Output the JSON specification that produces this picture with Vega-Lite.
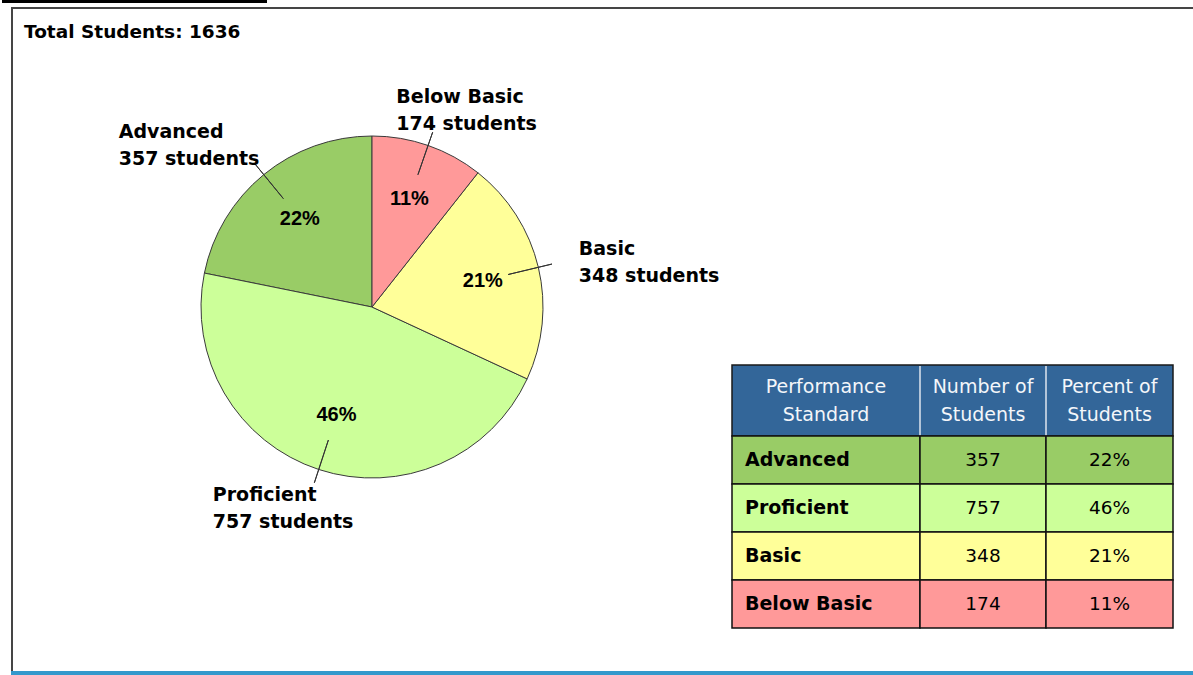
{
  "$schema": "https://vega.github.io/schema/vega-lite/v6.json",
  "width": 1193,
  "height": 675,
  "autosize": {"type": "fit", "contains": "padding"},
  "padding": 0,
  "background": "white",
  "config": {"view": {"stroke": null}, "font": "DejaVu Sans"},
  "data": {
    "values": [
      {"standard": "Advanced", "students": 357, "percent": 0.22, "rank": 1},
      {"standard": "Proficient", "students": 757, "percent": 0.46, "rank": 2},
      {"standard": "Basic", "students": 348, "percent": 0.21, "rank": 3},
      {"standard": "Below Basic", "students": 174, "percent": 0.11, "rank": 4}
    ]
  },
  "transform": [
    {"stack": "students", "groupby": [], "sort": [{"field": "rank", "order": "descending"}], "as": ["t0", "t1"]},
    {"calculate": "(datum.t0 + datum.t1) / 2", "as": "mid"},
    {"calculate": "[datum.standard, datum.students + ' students']", "as": "callout"}
  ],
  "resolve": {"scale": {"y": "independent"}},
  "layer": [
    {
      "mark": {"type": "arc", "x": 370, "y": 307, "outerRadius": 171, "stroke": "#3a3a3a", "strokeWidth": 1},
      "encoding": {
        "theta": {"field": "t0", "type": "quantitative", "scale": {"domain": [0, 1636], "zero": true, "nice": false}},
        "theta2": {"field": "t1"},
        "color": {"field": "standard", "type": "nominal", "legend": null,
          "scale": {"domain": ["Advanced", "Proficient", "Basic", "Below Basic"], "range": ["#99cc66", "#ccff99", "#ffff99", "#ff9999"]}}
      }
    },
    {
      "mark": {"type": "arc", "x": 370, "y": 307, "innerRadius": 140, "outerRadius": 185, "stroke": "#333333", "strokeWidth": 1, "fillOpacity": 0},
      "encoding": {
        "theta": {"field": "mid", "type": "quantitative"},
        "theta2": {"field": "mid"}
      }
    },
    {
      "mark": {"type": "text", "x": 370, "y": 307, "radius": 114, "font": "Liberation Sans", "fontWeight": "bold", "fontSize": 20, "color": "black", "baseline": "middle"},
      "encoding": {
        "theta": {"field": "mid", "type": "quantitative"},
        "text": {"field": "percent", "type": "quantitative", "format": ".0%"}
      }
    },
    {
      "transform": [{"filter": "datum.standard === 'Below Basic'"}],
      "mark": {"type": "text", "x": 370, "y": 307, "radius": 190, "align": "left", "baseline": "alphabetic", "dx": -38, "dy": -25, "fontWeight": "bold", "fontSize": 19, "lineHeight": 27, "color": "black"},
      "encoding": {"theta": {"field": "mid", "type": "quantitative"}, "text": {"field": "callout"}}
    },
    {
      "transform": [{"filter": "datum.standard === 'Basic'"}],
      "mark": {"type": "text", "x": 370, "y": 307, "radius": 190, "align": "left", "baseline": "alphabetic", "dx": 22, "dy": -8, "fontWeight": "bold", "fontSize": 19, "lineHeight": 27, "color": "black"},
      "encoding": {"theta": {"field": "mid", "type": "quantitative"}, "text": {"field": "callout"}}
    },
    {
      "transform": [{"filter": "datum.standard === 'Proficient'"}],
      "mark": {"type": "text", "x": 370, "y": 307, "radius": 190, "align": "left", "baseline": "alphabetic", "dx": -100, "dy": 13, "fontWeight": "bold", "fontSize": 19, "lineHeight": 27, "color": "black"},
      "encoding": {"theta": {"field": "mid", "type": "quantitative"}, "text": {"field": "callout"}}
    },
    {
      "transform": [{"filter": "datum.standard === 'Advanced'"}],
      "mark": {"type": "text", "x": 370, "y": 307, "radius": 190, "align": "left", "baseline": "alphabetic", "dx": -133, "dy": -22, "fontWeight": "bold", "fontSize": 19, "lineHeight": 27, "color": "black"},
      "encoding": {"theta": {"field": "mid", "type": "quantitative"}, "text": {"field": "callout"}}
    },
    {
      "transform": [
        {"aggregate": [{"op": "sum", "field": "students", "as": "total"}]},
        {"calculate": "'Total Students: ' + datum.total", "as": "heading"}
      ],
      "mark": {"type": "text", "x": 22, "y": 38, "align": "left", "baseline": "alphabetic", "fontWeight": "bold", "fontSize": 18.5, "color": "black"},
      "encoding": {"text": {"field": "heading"}}
    },
    {
      "data": {"values": [{"part": "header"}]},
      "mark": {"type": "rect", "fill": "#336699", "stroke": "#1a1a1a", "strokeWidth": 1.5},
      "encoding": {
        "x": {"datum": 0, "type": "quantitative", "scale": {"domain": [0, 441], "range": [730, 1171], "nice": false, "zero": false}, "axis": null},
        "x2": {"datum": 441},
        "y": {"datum": 0, "type": "quantitative", "scale": {"domain": [0, 71], "range": [365, 436], "nice": false, "zero": false}, "axis": null},
        "y2": {"datum": 71}
      }
    },
    {
      "data": {"values": [{"divider": 188}, {"divider": 314}]},
      "mark": {"type": "rule", "color": "#dfe6ef", "strokeWidth": 1.5},
      "encoding": {
        "x": {"field": "divider", "type": "quantitative", "scale": {"domain": [0, 441], "range": [730, 1171], "nice": false, "zero": false}, "axis": null},
        "y": {"datum": 1, "type": "quantitative", "scale": {"domain": [0, 71], "range": [365, 436], "nice": false, "zero": false}, "axis": null},
        "y2": {"datum": 71}
      }
    },
    {
      "data": {"values": [
        {"heading": ["Performance", "Standard"], "centre": 94},
        {"heading": ["Number of", "Students"], "centre": 251},
        {"heading": ["Percent of", "Students"], "centre": 377.5}
      ]},
      "mark": {"type": "text", "color": "#f4f6fa", "fontSize": 19, "lineHeight": 28, "baseline": "alphabetic", "align": "center"},
      "encoding": {
        "x": {"field": "centre", "type": "quantitative", "scale": {"domain": [0, 441], "range": [730, 1171], "nice": false, "zero": false}, "axis": null},
        "y": {"datum": 28, "type": "quantitative", "scale": {"domain": [0, 71], "range": [365, 436], "nice": false, "zero": false}, "axis": null},
        "text": {"field": "heading"}
      }
    },
    {
      "mark": {"type": "rect", "stroke": "#111111", "strokeWidth": 1.5},
      "encoding": {
        "x": {"datum": 0, "type": "quantitative", "scale": {"domain": [0, 441], "range": [730, 1171], "nice": false, "zero": false}, "axis": null},
        "x2": {"datum": 188},
        "y": {"field": "standard", "type": "nominal", "axis": null, "scale": {"type": "band", "domain": ["Advanced", "Proficient", "Basic", "Below Basic"], "range": [436, 628], "paddingInner": 0, "paddingOuter": 0}},
        "color": {"field": "standard", "type": "nominal", "legend": null}
      }
    },
    {
      "mark": {"type": "rect", "stroke": "#111111", "strokeWidth": 1.5},
      "encoding": {
        "x": {"datum": 188, "type": "quantitative", "scale": {"domain": [0, 441], "range": [730, 1171], "nice": false, "zero": false}, "axis": null},
        "x2": {"datum": 314},
        "y": {"field": "standard", "type": "nominal", "axis": null, "scale": {"type": "band", "domain": ["Advanced", "Proficient", "Basic", "Below Basic"], "range": [436, 628], "paddingInner": 0, "paddingOuter": 0}},
        "color": {"field": "standard", "type": "nominal", "legend": null}
      }
    },
    {
      "mark": {"type": "rect", "stroke": "#111111", "strokeWidth": 1.5},
      "encoding": {
        "x": {"datum": 314, "type": "quantitative", "scale": {"domain": [0, 441], "range": [730, 1171], "nice": false, "zero": false}, "axis": null},
        "x2": {"datum": 441},
        "y": {"field": "standard", "type": "nominal", "axis": null, "scale": {"type": "band", "domain": ["Advanced", "Proficient", "Basic", "Below Basic"], "range": [436, 628], "paddingInner": 0, "paddingOuter": 0}},
        "color": {"field": "standard", "type": "nominal", "legend": null}
      }
    },
    {
      "mark": {"type": "text", "align": "left", "baseline": "middle", "fontWeight": "bold", "fontSize": 19, "color": "black"},
      "encoding": {
        "x": {"datum": 13, "type": "quantitative", "scale": {"domain": [0, 441], "range": [730, 1171], "nice": false, "zero": false}, "axis": null},
        "y": {"field": "standard", "type": "nominal", "axis": null, "scale": {"type": "band", "domain": ["Advanced", "Proficient", "Basic", "Below Basic"], "range": [436, 628], "paddingInner": 0, "paddingOuter": 0}},
        "text": {"field": "standard"}
      }
    },
    {
      "mark": {"type": "text", "align": "center", "baseline": "middle", "fontSize": 18.5, "color": "black"},
      "encoding": {
        "x": {"datum": 251, "type": "quantitative", "scale": {"domain": [0, 441], "range": [730, 1171], "nice": false, "zero": false}, "axis": null},
        "y": {"field": "standard", "type": "nominal", "axis": null, "scale": {"type": "band", "domain": ["Advanced", "Proficient", "Basic", "Below Basic"], "range": [436, 628], "paddingInner": 0, "paddingOuter": 0}},
        "text": {"field": "students", "type": "quantitative"}
      }
    },
    {
      "mark": {"type": "text", "align": "center", "baseline": "middle", "fontSize": 18.5, "color": "black"},
      "encoding": {
        "x": {"datum": 377.5, "type": "quantitative", "scale": {"domain": [0, 441], "range": [730, 1171], "nice": false, "zero": false}, "axis": null},
        "y": {"field": "standard", "type": "nominal", "axis": null, "scale": {"type": "band", "domain": ["Advanced", "Proficient", "Basic", "Below Basic"], "range": [436, 628], "paddingInner": 0, "paddingOuter": 0}},
        "text": {"field": "percent", "type": "quantitative", "format": ".0%"}
      }
    },
    {
      "data": {"values": [{"edge": "left"}]},
      "mark": {"type": "rule", "color": "#454545", "strokeWidth": 2},
      "encoding": {"x": {"value": 10}, "y": {"value": 7}, "y2": {"value": 672}}
    },
    {
      "data": {"values": [{"edge": "top"}]},
      "mark": {"type": "rule", "color": "#454545", "strokeWidth": 2},
      "encoding": {"x": {"value": 9}, "x2": {"value": 1193}, "y": {"value": 8}}
    },
    {
      "data": {"values": [{"edge": "bottom"}]},
      "mark": {"type": "rule", "color": "#3399cc", "strokeWidth": 4},
      "encoding": {"x": {"value": 9}, "x2": {"value": 1193}, "y": {"value": 673}}
    },
    {
      "data": {"values": [{"edge": "underline"}]},
      "mark": {"type": "rule", "color": "black", "strokeWidth": 3},
      "encoding": {"x": {"value": 0}, "x2": {"value": 265}, "y": {"value": 1.5}}
    }
  ]
}
